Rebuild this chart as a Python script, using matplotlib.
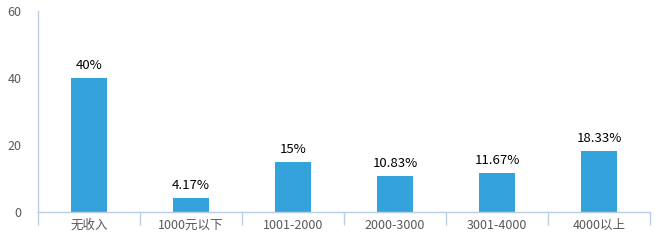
import matplotlib
matplotlib.use("Agg")
import matplotlib.pyplot as plt
import numpy as np

plt.rcParams['font.family'] = ['Noto Sans CJK SC', 'DejaVu Sans']

categories = ['无收入', '1000元以下', '1001-2000', '2000-3000', '3001-4000', '4000以上']
values     = [40, 4.17, 15, 10.83, 11.67, 18.33]
labels     = ['40%', '4.17%', '15%', '10.83%', '11.67%', '18.33%']
yticks     = [0, 20, 40, 60]

axis_col = '#b9cde5'
text_col = '#595959'
bar_col  = '#34a3db'

fig = plt.figure(figsize=(6.66, 2.45), dpi=100)
ax = fig.add_axes([38/666, 33/245, 612/666, 201/245])

x = np.arange(len(categories))
bars = ax.bar(x, values, width=0.36, color=bar_col, zorder=2)
for b, lab in zip(bars, labels):
    ax.annotate(lab, (b.get_x() + b.get_width()/2, b.get_height()),
                xytext=(0, 4), textcoords='offset points',
                ha='center', va='bottom', fontsize=9.5, color='black')

ax.set_xlim(-0.5, len(categories) - 0.5)
ax.set_ylim(0, 60)
ax.set_yticks(yticks)
ax.set_yticklabels([str(v) for v in yticks], color=text_col, fontsize=9)
ax.tick_params(axis='y', length=0, pad=12)

# category labels in the middle, tick marks at the boundaries
ax.set_xticks(x)
ax.set_xticklabels(categories, color=text_col, fontsize=9)
ax.tick_params(axis='x', which='major', length=0, pad=5)
ax.set_xticks(np.arange(-0.5, len(categories)), minor=True)
ax.tick_params(axis='x', which='minor', length=9, color=axis_col, width=1)

for s in ['top', 'right']:
    ax.spines[s].set_visible(False)
for s in ['left', 'bottom']:
    ax.spines[s].set_color(axis_col)
    ax.spines[s].set_linewidth(1)
ax.spines['left'].set_bounds(0, 60)

fig.savefig('out.png', dpi=100)
